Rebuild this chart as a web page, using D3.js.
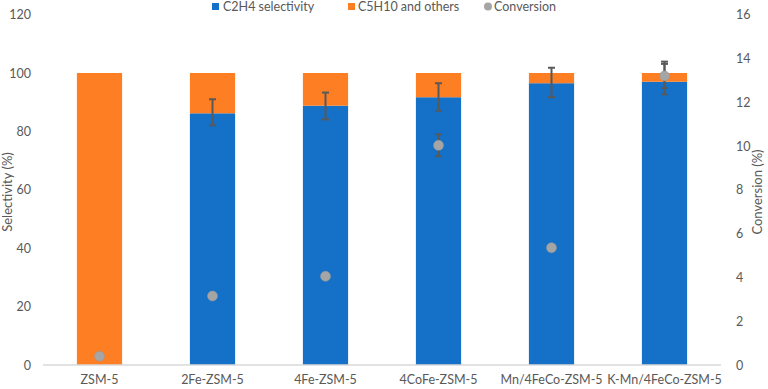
<!DOCTYPE html>
<html><head><meta charset="utf-8">
<script src="https://cdn.jsdelivr.net/npm/d3@7"></script>
<style>body{margin:0;background:#fff}svg{display:block}text{font-family:Lato,"Open Sans",sans-serif;fill:#595959}</style>
</head><body><svg width="768" height="389"></svg>
<script>
const categories = ["ZSM-5","2Fe-ZSM-5","4Fe-ZSM-5","4CoFe-ZSM-5","Mn/4FeCo-ZSM-5","K-Mn/4FeCo-ZSM-5"];
const c2h4 = [0, 86.2, 88.8, 91.7, 96.5, 97.0];
const c5h10 = c2h4.map(v => 100 - v);
const selUpper = [null, 91.0, 93.3, 96.5, 101.8, 103.9];
const selLower = [null, 82.1, 84.1, 87.1, 91.7, 92.7];
const conversion = [0.4, 3.15, 4.05, 10.03, 5.35, 13.2];
const convErr = [0, 0, 0, 0.5, 0.1, 0.55];
const leftTicks = [0,20,40,60,80,100,120];
const rightTicks = [0,2,4,6,8,10,12,14,16];

const svg = d3.select("svg");
const x = d3.scaleBand().domain(categories).range([43,721]).paddingInner(0.6).paddingOuter(0.3);
const yL = d3.scaleLinear().domain([0,120]).range([365,14.6]);
const yR = d3.scaleLinear().domain([0,16]).range([365,14.6]);
const blue = "#1570c8", orange = "#fd7e23";

// bars
svg.append("g").selectAll("rect.b").data(categories).join("rect")
  .attr("x", d => x(d)).attr("width", x.bandwidth())
  .attr("y", (d,i) => yL(c2h4[i])).attr("height", (d,i) => yL(0) - yL(c2h4[i]))
  .attr("fill", blue);
svg.append("g").selectAll("rect.o").data(categories).join("rect")
  .attr("x", d => x(d)).attr("width", x.bandwidth())
  .attr("y", (d,i) => yL(c2h4[i] + c5h10[i])).attr("height", (d,i) => yL(c2h4[i]) - yL(c2h4[i] + c5h10[i]))
  .attr("fill", orange);

// axis line
svg.append("line").attr("x1",43).attr("x2",721).attr("y1",yL(0)).attr("y2",yL(0)).attr("stroke","#d9d9d9").attr("stroke-width",1.5);

const ebColor = "#595959";
function errBar(g, cx, y1, y2){
  g.append("line").attr("x1",cx).attr("x2",cx).attr("y1",y1).attr("y2",y2).attr("stroke",ebColor).attr("stroke-width",2);
  [y1,y2].forEach(yy => g.append("line").attr("x1",cx-3.5).attr("x2",cx+3.5).attr("y1",yy).attr("y2",yy).attr("stroke",ebColor).attr("stroke-width",2));
}
const eg = svg.append("g");
categories.forEach((c,i) => {
  if (selUpper[i] != null) errBar(eg, x(c)+x.bandwidth()/2, yL(selUpper[i]), yL(selLower[i]));
});
categories.forEach((c,i) => {
  if (convErr[i] > 0) errBar(eg, x(c)+x.bandwidth()/2, yR(conversion[i]+convErr[i]), yR(conversion[i]-convErr[i]));
});
svg.append("g").selectAll("circle").data(categories).join("circle")
  .attr("cx", d => x(d)+x.bandwidth()/2).attr("cy", (d,i) => yR(conversion[i]))
  .attr("r", 5).attr("fill","#a5a5a5").attr("stroke","#999").attr("stroke-width",0.5);

// axes
const axL = svg.append("g").attr("transform","translate(31,0)")
  .call(d3.axisLeft(yL).tickValues(leftTicks).tickSize(0).tickPadding(0));
const axR = svg.append("g").attr("transform","translate(736,0)")
  .call(d3.axisRight(yR).tickValues(rightTicks).tickSize(0).tickPadding(0));
const axB = svg.append("g").attr("transform",`translate(0,${yL(0)})`)
  .call(d3.axisBottom(x).tickSize(0).tickPadding(10));
[axL,axR,axB].forEach(a => { a.select(".domain").remove(); a.selectAll("text").style("font-size","12.5px").attr("fill","#595959").style("font-family","Lato, 'Open Sans', sans-serif"); });

svg.append("text").attr("transform","translate(12,192) rotate(-90)").attr("text-anchor","middle").style("font-size","13px").text("Selectivity (%)");
svg.append("text").attr("transform","translate(762,192) rotate(-90)").attr("text-anchor","middle").style("font-size","13px").text("Conversion (%)");

// legend
const lg = svg.append("g").style("font-size","12.5px");
lg.append("rect").attr("x",212).attr("y",3).attr("width",7).attr("height",7).attr("fill",blue);
lg.append("text").attr("x",223).attr("y",11).text("C2H4 selectivity");
lg.append("rect").attr("x",348).attr("y",3).attr("width",7).attr("height",7).attr("fill",orange);
lg.append("text").attr("x",358).attr("y",11).text("C5H10 and others");
lg.append("circle").attr("cx",488).attr("cy",6.5).attr("r",4).attr("fill","#a5a5a5");
lg.append("text").attr("x",494).attr("y",11).text("Conversion");
</script></body></html>
